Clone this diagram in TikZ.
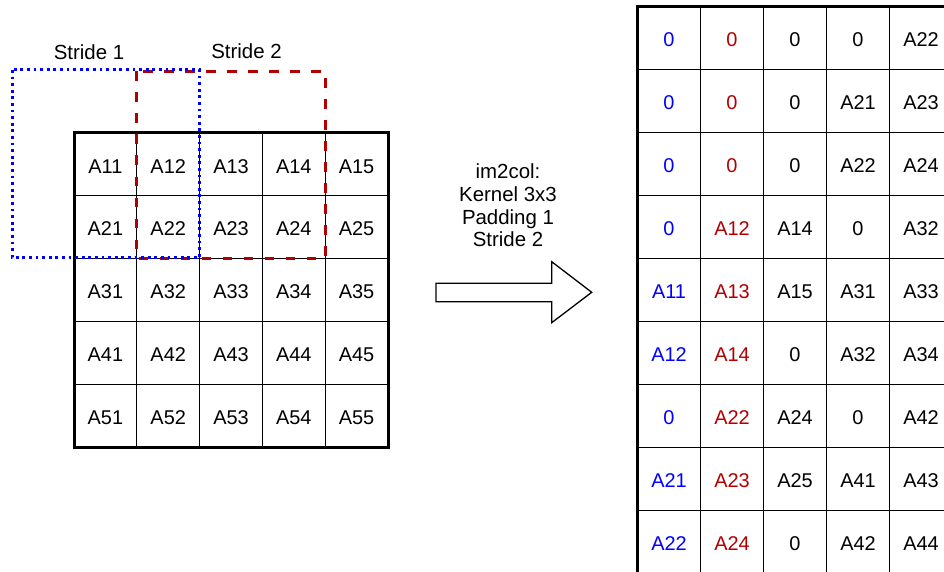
\documentclass[tikz,border=0pt]{standalone}
\usepackage{fontspec}
\setmainfont{Liberation Sans}
\usetikzlibrary{calc}
\definecolor{padblue}{RGB}{0,0,255}
\definecolor{padred}{RGB}{178,0,0}
\begin{document}
\begin{tikzpicture}[x=1bp,y=-1bp,
  cell/.style={draw, line width=1.2bp, minimum width=62.8bp, minimum height=62.8bp,
    inner sep=0pt, outer sep=0pt, anchor=north west,
    text height=17.3bp, text depth=0pt,
    font=\fontsize{20}{22}\selectfont},
  mcell/.style={cell, minimum width=63bp, minimum height=63bp},
  col1/.style={text=padblue},
  col2/.style={text=padred},
  col3/.style={}, col4/.style={}, col5/.style={},
  frame/.style={line width=3bp},
  lbl/.style={inner sep=0pt, font=\fontsize{20.5}{22.7}\selectfont}]
\clip (0,0) rectangle (944,572);

% input feature map 5x5
\foreach \r in {1,...,5}
  \foreach \c in {1,...,5}
    \node[cell] (g\r\c) at ({74+(\c-1)*62.8},{133+(\r-1)*62.8}) {A\r\c};
\draw[frame] (g11.north west) rectangle (g55.south east);

% kernel windows with padding
\draw[padred, line width=3.2bp, dash pattern=on 9.7bp off 11.3bp]
  ($(g12.north west)+(0,-61.5)$) rectangle (g24.south east);
\draw[padblue, line width=3bp, dash pattern=on 2.8bp off 3.8bp]
  ($(g11.north west)+(-62,-63)$) rectangle ($(g22.south east)+(0,-1)$);

\node[lbl] (s1) at (89,52.5) {Stride 1};
\node[lbl] (s2) at (246.5,51.5) {Stride 2};

% operation label and block arrow
\node[lbl, align=center] (op) at (508,205.5) {im2col:\\Kernel 3x3\\Padding 1\\Stride 2};
\draw[line width=1.3bp, fill=white]
  (436,283.3) -- (551.7,283.3) -- (551.7,261.7) -- (591.7,292.3)
  -- (551.7,322.7) -- (551.7,301.7) -- (436,301.7) -- cycle;

% unrolled column matrix
\foreach \row [count=\r] in {
    {0,0,0,0,A22},
    {0,0,0,A21,A23},
    {0,0,0,A22,A24},
    {0,A12,A14,0,A32},
    {A11,A13,A15,A31,A33},
    {A12,A14,0,A32,A34},
    {0,A22,A24,0,A42},
    {A21,A23,A25,A41,A43},
    {A22,A24,0,A42,A44}}
  \foreach \v [count=\c] in \row
    \node[mcell, col\c] (m\r-\c) at ({637.5+(\c-1)*63},{6.7+(\r-1)*63}) {\v};
\draw[frame] (m1-5.north east) -- (m1-1.north west) -- (m9-1.south west);
\end{tikzpicture}
\end{document}
